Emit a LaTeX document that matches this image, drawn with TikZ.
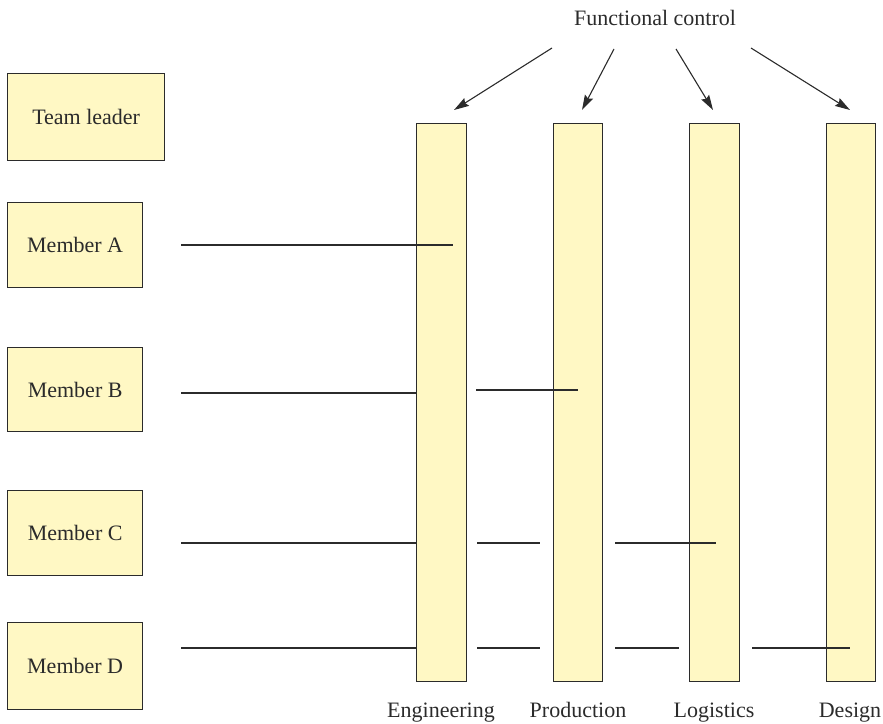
\documentclass[tikz,border=0pt]{standalone}
\usepackage{fontspec}
\setmainfont{Liberation Serif}
\usetikzlibrary{arrows.meta}
\definecolor{boxfill}{HTML}{FFF8C4}
\definecolor{ink}{HTML}{2B2B2B}
\begin{document}
\begin{tikzpicture}[x=1pt,y=-1pt,
  box/.style={draw=ink,line width=1.3pt,fill=boxfill,inner sep=0pt,anchor=north west,
              text=ink,font=\fontsize{22}{26}\selectfont},
  bar/.style={draw=ink,line width=1.3pt,fill=boxfill,inner sep=0pt,anchor=north west,
              minimum height=558pt},
  link/.style={draw=ink,line width=1.1pt},
  ctrl/.style={draw=ink,line width=1.1pt,-{Stealth[length=15pt,width=9pt,inset=2pt]}},
  lab/.style={font=\fontsize{22}{26}\selectfont,text=ink,inner sep=0pt,anchor=base}]
\useasboundingbox (0,0) rectangle (883,723);

% left boxes
\node[box,minimum width=157pt,minimum height=87pt] (tl) at (7,73) {Team leader};
\node[box,minimum width=135pt,minimum height=85pt] (ma) at (7,202) {Member A};
\node[box,minimum width=135pt,minimum height=84pt] (mb) at (7,347) {Member B};
\node[box,minimum width=135pt,minimum height=85pt] (mc) at (7,490) {Member C};
\node[box,minimum width=135pt,minimum height=87pt] (md) at (7,622) {Member D};

% functional bars
\node[bar,minimum width=50pt] (eng) at (416,123) {};
\node[bar,minimum width=49pt] (prod) at (553,123) {};
\node[bar,minimum width=50pt] (log) at (689,123) {};
\node[bar,minimum width=49pt] (des) at (826,123) {};

% labels
\node[lab] (fc) at (655,25) {Functional control};
\node[lab] (leng) at (441,717) {Engineering};
\node[lab] (lprod) at (578,717) {Production};
\node[lab] (llog) at (714,717) {Logistics};
\node[lab] (ldes) at (850,717) {Design};

% control arrows
\coordinate (s1) at (552,48);  \coordinate (t1) at (454,110);
\coordinate (s2) at (614,49);  \coordinate (t2) at (582,110);
\coordinate (s3) at (676,49);  \coordinate (t3) at (713,110);
\coordinate (s4) at (751,48);  \coordinate (t4) at (850,110);
\draw[ctrl] (s1) -- (t1);
\draw[ctrl] (s2) -- (t2);
\draw[ctrl] (s3) -- (t3);
\draw[ctrl] (s4) -- (t4);

% member lines
\coordinate (a0) at (181,245); \coordinate (a1) at (453,245);
\draw[link] (a0) -- (a1);

\coordinate (b0) at (181,393);
\draw[link] (b0) -- (eng.west |- b0);
\coordinate (b2) at (476,390); \coordinate (b3) at (578,390);
\draw[link] (b2) -- (b3);

\coordinate (c0) at (181,543);
\draw[link] (c0) -- (eng.west |- c0);
\coordinate (c2) at (477,543); \coordinate (c3) at (540,543);
\draw[link] (c2) -- (c3);
\coordinate (c4) at (615,543); \coordinate (c5) at (716,543);
\draw[link] (c4) -- (c5);

\coordinate (d0) at (181,648);
\draw[link] (d0) -- (eng.west |- d0);
\coordinate (d2) at (477,648); \coordinate (d3) at (540,648);
\draw[link] (d2) -- (d3);
\coordinate (d4) at (615,648); \coordinate (d5) at (679,648);
\draw[link] (d4) -- (d5);
\coordinate (d6) at (752,648); \coordinate (d7) at (850,648);
\draw[link] (d6) -- (d7);
\end{tikzpicture}
\end{document}
